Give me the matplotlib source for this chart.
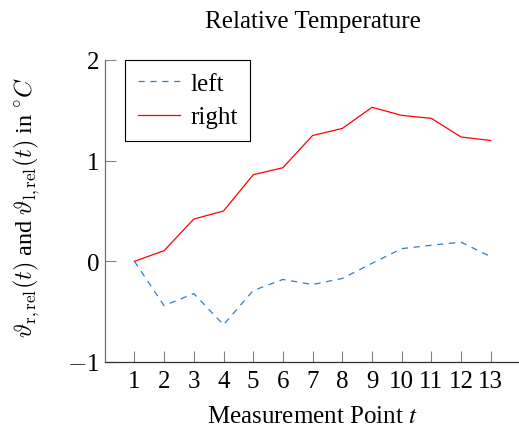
import numpy as np
import matplotlib.pyplot as plt

plt.rcParams['font.family'] = 'Liberation Serif'
plt.rcParams['mathtext.fontset'] = 'stix'

points = np.arange(1, 14)
left = [0.0, -0.44, -0.32, -0.63, -0.29, -0.18, -0.23, -0.17, -0.02, 0.126, 0.16, 0.19, 0.046]
right = [0.0, 0.106, 0.42, 0.50, 0.86, 0.93, 1.25, 1.32, 1.53, 1.45, 1.42, 1.235, 1.20]
y_ticks = [-1, 0, 1, 2]
y_tick_labels = ['$-$1', '0', '1', '2']

fs = 18

fig = plt.figure(figsize=(5.19, 4.31), dpi=100)
ax = fig.add_axes([104.7 / 519, 1 - 363 / 431, (520.5 - 104.7) / 519, (363 - 61) / 431])

ax.plot(points, left, color='#2b80cc', linestyle=(0, (5, 4.5)), linewidth=0.9, label='left')
ax.plot(points, right, color='red', linewidth=0.9, label='right')

ax.set_xlim(0, 14)
ax.set_ylim(-1, 2)
ax.set_xticks(points)
ax.set_yticks(y_ticks)
ax.set_yticklabels(y_tick_labels)
for lbl in ax.get_yticklabels():
    lbl.set_math_fontfamily('cm')

for side in ['top', 'right']:
    ax.spines[side].set_visible(False)
ax.spines['bottom'].set_color('#303030')
ax.spines['left'].set_color('#707070')
for side in ['left', 'bottom']:
    ax.spines[side].set_linewidth(0.9)
ax.tick_params(direction='in', length=8, width=0.8, color='#808080', labelsize=fs, pad=4)
ax.tick_params(axis='x', pad=6)

ax.set_title('Relative Temperature', fontsize=fs, pad=24)
ax.set_xlabel('Measurement Point $t$', fontsize=fs, labelpad=9)
ax.set_ylabel(r'$\vartheta_{\mathrm{r,rel}}(t)$ and $\vartheta_{\mathrm{l,rel}}(t)$ in $^{\circ}C$',
              fontsize=17.5, math_fontfamily='cm')
ax.yaxis.set_label_coords(-0.15, 0.517)

leg = ax.legend(loc='upper left', bbox_to_anchor=(0.05, 1.0), fontsize=fs, fancybox=False,
                framealpha=1, edgecolor='black', handlelength=1.7, borderpad=0.5,
                labelspacing=0.43, handletextpad=0.4, borderaxespad=0)
leg.get_frame().set_linewidth(0.8)

fig.savefig('out.png', dpi=100)
